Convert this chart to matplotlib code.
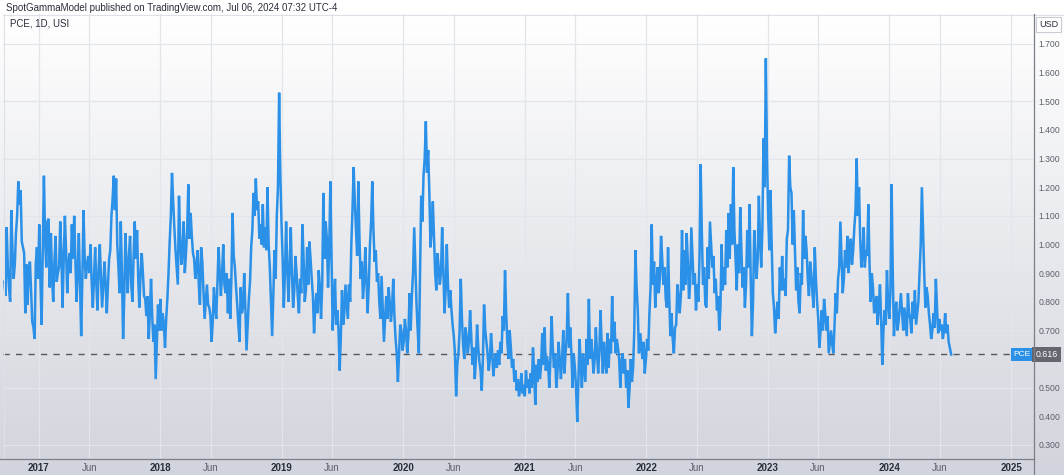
import numpy as np
import pandas as pd
import matplotlib
matplotlib.use('Agg')
import matplotlib.pyplot as plt
from matplotlib.patches import Rectangle
from matplotlib.transforms import blended_transform_factory

FONT = ['Liberation Sans Narrow', 'Liberation Sans', 'DejaVu Sans']
plt.rcParams['font.family'] = FONT

# ---------------- data ----------------
# samples every half week: "weekly" at the start of each week, "mid" half a week later
start_date = '2016-09-19'
weekly_a = [
    0.87, 1.06, 0.85, 1.12, 0.88, 1.04, 1.22, 1.19, 0.99, 0.76,
    0.79, 0.94, 0.73, 0.67, 0.99, 1.07, 0.72, 1.24, 0.92, 1.09,
    1.04, 0.80, 1.03, 0.90, 1.08, 0.78, 1.10, 0.83, 0.97, 1.07,
    1.10, 0.80, 1.04, 0.68, 1.12, 0.88, 0.96, 1.00, 0.78, 0.99,
    0.77, 1.00, 0.78, 0.94, 0.76, 0.95, 1.10, 1.24, 1.23, 0.92,
    1.08, 0.67, 1.04, 0.83, 1.03, 0.80, 1.08, 1.05, 0.78, 0.97,
    0.82, 0.75, 0.67, 0.88, 0.66, 0.53, 0.79, 0.81, 0.76, 0.64,
    0.81, 1.01, 1.25, 1.06, 0.92, 1.17, 0.93, 1.08, 0.97, 1.21,
    1.11, 0.97, 0.88, 0.98, 0.79, 0.94, 0.74, 0.86, 0.78, 0.66,
    0.85, 0.74, 0.99, 0.82, 1.00, 0.83, 0.76, 0.74, 1.11, 0.92,
    0.79, 0.66, 0.76, 0.90, 0.63, 0.81, 0.99, 1.18, 1.23, 1.15,
    1.07, 1.14, 1.06, 1.20,
]
mid_a = [
    0.82, 0.92, 0.80, 0.98, 0.93, 1.10, 1.14, 1.01, 0.97, 0.93,
    0.92, 0.83, 0.71, 0.93, 0.88, 0.88, 0.98, 1.02, 1.08, 0.85,
    0.88, 0.94, 0.87, 0.92, 0.97, 0.95, 0.98, 0.93, 0.90, 0.95,
    0.95, 0.90, 0.86, 0.88, 0.95, 0.93, 0.90, 0.87, 0.88, 0.86,
    0.92, 0.88, 0.86, 0.86, 0.86, 0.98, 1.16, 1.12, 1.00, 0.83,
    0.90, 0.82, 0.92, 0.96, 0.86, 0.96, 0.95, 0.88, 0.90, 0.90,
    0.81, 0.82, 0.76, 0.75, 0.72, 0.66, 0.70, 0.70, 0.72, 0.74,
    0.90, 1.10, 1.15, 0.98, 0.86, 1.02, 0.98, 0.90, 1.05, 1.02,
    1.03, 0.95, 0.92, 0.86, 0.99, 0.84, 0.80, 0.79, 0.75, 0.73,
    0.78, 0.86, 0.90, 0.90, 0.86, 0.90, 0.88, 0.88, 0.96, 0.85,
    0.72, 0.85, 0.78, 0.78, 0.72, 0.87, 1.05, 1.10, 1.12, 1.02,
    1.00, 0.99, 0.98, 1.00,
]
weekly_b = [
    0.92, 0.68, 0.98, 1.10, 1.53, 1.08, 0.78, 1.08, 0.80, 1.06,
    0.78, 0.96, 0.82, 0.88, 1.07, 0.80, 0.99, 1.01, 0.88, 0.69,
    0.83, 0.91, 0.74, 1.18, 1.08, 0.85, 1.22, 0.70, 0.88, 0.77,
    0.56, 0.84, 0.76, 0.80, 0.86, 1.00, 1.27, 1.05, 1.22, 0.88,
    0.81, 0.99, 0.76, 1.00, 1.22, 0.94, 0.87, 0.80, 0.89, 0.66,
    0.82, 0.85, 0.73, 0.88, 0.67, 0.52, 0.72, 0.63, 0.74, 0.62,
    0.83, 0.82, 1.06, 0.79, 0.62, 1.17, 1.24, 1.43, 1.33, 0.99,
    1.15, 0.90, 0.97, 0.86, 1.06, 0.76, 1.00, 0.78, 0.77, 0.68,
    0.47, 0.62, 0.88, 0.65, 0.71, 0.62, 0.77, 0.58, 0.53, 0.72,
    0.59, 0.49, 0.79, 0.66, 0.56, 0.69, 0.54, 0.62, 0.63, 0.66,
    0.75, 0.91, 0.66, 0.70, 0.57, 0.52, 0.49, 0.47, 0.55, 0.51,
    0.56, 0.53,
]
mid_b = [
    0.80, 0.82, 0.88, 1.20, 1.25, 0.95, 0.90, 0.92, 0.92, 0.90,
    0.84, 0.90, 0.76, 0.83, 0.95, 0.84, 0.86, 0.95, 0.82, 0.78,
    0.76, 0.85, 0.86, 0.95, 1.02, 0.98, 0.95, 0.80, 0.72, 0.70,
    0.68, 0.72, 0.86, 0.74, 0.80, 1.12, 1.15, 0.96, 1.02, 0.94,
    0.87, 0.88, 0.86, 1.08, 1.05, 0.98, 0.90, 0.74, 0.78, 0.74,
    0.74, 0.80, 0.78, 0.75, 0.62, 0.62, 0.70, 0.66, 0.70, 0.68,
    0.70, 0.90, 0.92, 0.70, 0.90, 1.08, 1.30, 1.25, 1.18, 1.05,
    1.02, 0.84, 0.92, 0.90, 0.92, 0.84, 0.86, 0.84, 0.72, 0.62,
    0.58, 0.70, 0.74, 0.60, 0.68, 0.66, 0.68, 0.64, 0.60, 0.64,
    0.56, 0.60, 0.70, 0.62, 0.60, 0.62, 0.59, 0.57, 0.58, 0.62,
    0.70, 0.76, 0.60, 0.64, 0.60, 0.56, 0.53, 0.50, 0.48, 0.47,
    0.50, 0.48,
]
weekly_c = [
    0.55, 0.64, 0.44, 0.52, 0.53, 0.69, 0.71, 0.61, 0.50, 0.75,
    0.57, 0.50, 0.66, 0.53, 0.70, 0.62, 0.83, 0.71, 0.50, 0.57,
    0.38, 0.67, 0.50, 0.57, 0.67, 0.81, 0.67, 0.55, 0.71, 0.55,
    0.77, 0.55, 0.60, 0.69, 0.67, 0.82, 0.73, 0.67, 0.60, 0.59,
    0.55, 0.50, 0.43, 0.60, 0.57, 0.98, 0.77, 0.69, 0.60, 0.55,
    0.67, 0.76, 1.07, 0.94, 0.86, 0.83, 1.03, 0.86, 0.81, 0.99,
    0.68, 0.67, 0.71, 0.86, 0.76, 1.05, 0.98, 1.04, 0.81, 1.06,
    0.86, 0.77, 0.80, 1.28, 0.86, 0.79, 0.99, 1.08, 0.92, 0.83,
    0.77, 0.70, 1.00, 0.92, 1.05, 1.11, 1.14, 1.27, 0.95, 1.00,
    1.13, 0.85, 0.78, 1.05, 1.14, 0.68, 1.05, 0.88, 1.17, 0.92,
    1.37, 1.65, 1.10, 1.19, 0.83, 0.69, 0.80, 0.92,
]
mid_c = [
    0.50, 0.55, 0.58, 0.60, 0.58, 0.58, 0.56, 0.58, 0.60, 0.64,
    0.62, 0.55, 0.60, 0.60, 0.55, 0.68, 0.64, 0.62, 0.62, 0.50,
    0.52, 0.58, 0.62, 0.52, 0.58, 0.60, 0.62, 0.60, 0.62, 0.63,
    0.65, 0.66, 0.55, 0.57, 0.62, 0.66, 0.62, 0.64, 0.50, 0.62,
    0.60, 0.56, 0.50, 0.52, 0.70, 0.85, 0.62, 0.65, 0.66, 0.60,
    0.63, 0.85, 0.86, 0.78, 0.92, 0.88, 0.95, 0.92, 0.78, 0.82,
    0.76, 0.62, 0.72, 0.82, 0.82, 0.84, 0.86, 0.94, 0.86, 0.96,
    0.90, 0.86, 0.95, 1.05, 0.92, 0.78, 0.88, 1.00, 0.96, 0.88,
    0.82, 0.78, 0.84, 0.86, 0.92, 0.95, 1.00, 1.05, 0.84, 0.90,
    0.98, 0.92, 0.86, 0.92, 0.88, 0.80, 0.96, 0.95, 1.02, 1.05,
    1.20, 1.30, 0.98, 1.00, 0.78, 0.75, 0.74, 0.84,
]
weekly_d = [
    0.96, 0.88, 1.02, 1.31, 1.18, 1.12, 0.84, 0.80, 0.90, 1.12,
    1.03, 0.88, 0.94, 0.83, 0.99, 0.80, 0.64, 0.77, 0.81, 0.70,
    0.62, 0.70, 0.62, 0.83, 0.88, 1.08, 0.83, 0.98, 1.03, 0.97,
    0.93, 1.06, 1.30, 1.20, 0.92, 1.06, 0.98, 1.14, 0.80, 0.85,
    0.80, 0.72, 0.86, 0.58, 0.77, 0.91, 0.74, 1.21, 0.68, 0.80,
    0.73, 0.83, 0.70, 0.73, 0.83, 0.74, 0.80, 0.84, 0.76, 0.90,
    1.20, 0.90, 0.85, 0.76, 0.67, 0.76, 0.88, 0.69, 0.70, 0.67,
    0.76, 0.72,
]
mid_d = [
    0.84, 0.82, 1.05, 1.20, 1.00, 0.98, 0.92, 0.76, 0.86, 0.95,
    0.98, 0.82, 0.90, 0.78, 0.88, 0.74, 0.70, 0.70, 0.76, 0.75,
    0.66, 0.65, 0.72, 0.76, 0.92, 0.96, 0.88, 0.92, 0.90, 1.02,
    0.98, 1.12, 1.10, 1.02, 0.96, 0.92, 0.96, 0.94, 0.90, 0.76,
    0.82, 0.78, 0.74, 0.70, 0.72, 0.80, 0.84, 0.90, 0.76, 0.70,
    0.78, 0.76, 0.78, 0.68, 0.76, 0.69, 0.74, 0.72, 0.80, 1.00,
    1.05, 0.78, 0.82, 0.72, 0.70, 0.71, 0.78, 0.74, 0.72, 0.70,
    0.69, 0.66,
]
last_date = '2024-07-05'
last_close = 0.616

year_ticks = ['2017-01-01', '2018-01-01', '2019-01-01', '2020-01-01', '2021-01-01',
              '2022-01-01', '2023-01-01', '2024-01-01', '2025-01-01']
year_labels = ['2017', '2018', '2019', '2020', '2021', '2022', '2023', '2024', '2025']
jun_ticks = ['2017-06-01', '2018-06-01', '2019-06-01', '2020-06-01', '2021-06-01',
             '2022-06-01', '2023-06-01', '2024-06-01']
# 0.600 is hidden behind the last-value tag in the reference
price_ticks = [0.3, 0.4, 0.5, 0.7, 0.8, 0.9, 1.0, 1.1, 1.2, 1.3, 1.4, 1.5, 1.6, 1.7]
grid_levels = [0.3, 0.5, 0.7, 0.9, 1.1, 1.3, 1.5, 1.7]

title = 'SpotGammaModel published on TradingView.com, Jul 06, 2024 07:32 UTC-4'
legend_label = 'PCE, 1D, USI'

# ---------------- build series ----------------
weekly = weekly_a + weekly_b + weekly_c + weekly_d
mids = mid_a + mid_b + mid_c + mid_d
values = []
for w, m in zip(weekly, mids):
    values.extend([w, m])
dates = list(pd.date_range(start_date, periods=len(values), freq='84h'))
dates.append(pd.Timestamp(last_date))
values.append(last_close)

# ---------------- figure ----------------
W, H = 1064, 475
fig = plt.figure(figsize=(W / 100, H / 100), dpi=100)
fig.patch.set_facecolor('white')

# background gradient
bg = fig.add_axes([0, 0, 1, 1], zorder=0)
bg.set_axis_off()
rows = np.ones((H, 1, 3))
top_c = np.array([255, 255, 255]) / 255
bot_c = np.array([209, 212, 220]) / 255
t = np.clip((np.arange(H) - 14) / (H - 14), 0, 1)
rows[:, 0, :] = top_c[None, :] * (1 - t[:, None]) + bot_c[None, :] * t[:, None]
rows[:14, 0, :] = 1.0
bg.imshow(rows, aspect='auto', extent=(0, W, H, 0), interpolation='bilinear')
bg.set_xlim(0, W)
bg.set_ylim(H, 0)

# main axes
L, R, T, B = 3, 1033, 14, 458
ax = fig.add_axes([L / W, (H - B) / H, (R - L) / W, (B - T) / H], zorder=2)
ax.patch.set_alpha(0)
for s in ax.spines.values():
    s.set_visible(False)

ax.set_xlim(pd.Timestamp('2016-09-15'), pd.Timestamp('2025-03-08'))
ax.set_ylim(0.2545, 1.8047)

grid_c = '#e3e5ea'
for g in grid_levels:
    ax.axhline(g, color=grid_c, lw=0.9, zorder=1)
for d in year_ticks + jun_ticks:
    ax.axvline(pd.Timestamp(d), color=grid_c, lw=0.9, zorder=1)

ax.plot(dates, values, color='#2a90e8', lw=1.8, zorder=3, solid_joinstyle='miter')

# x ticks
xt = [pd.Timestamp(d) for d in year_ticks + jun_ticks]
xl = year_labels + ['Jun'] * len(jun_ticks)
ax.set_xticks(xt)
ax.set_xticklabels(xl)
ax.tick_params(axis='x', length=0, pad=3.5, labelsize=7)
for lab in ax.get_xticklabels():
    if lab.get_text() == 'Jun':
        lab.set_color('#5d606b')
    else:
        lab.set_color('#2a2e39')
        lab.set_fontweight('bold')

# y ticks on right
ax.yaxis.tick_right()
ax.set_yticks(price_ticks)
ax.set_yticklabels([f'{v:.3f}' for v in price_ticks])
ax.tick_params(axis='y', length=0, pad=4, labelsize=6.2, labelcolor='#5d606b')

# overlay in pixel coordinates
ov = fig.add_axes([0, 0, 1, 1], zorder=4)
ov.set_axis_off()
ov.patch.set_alpha(0)
ov.set_xlim(0, W)
ov.set_ylim(H, 0)
ov.plot([3.5, 3.5], [14, B], color='#dde0e6', lw=0.8)
ov.plot([3, W], [14.5, 14.5], color='#dde0e6', lw=0.8)
ov.plot([R + 0.5, R + 0.5], [14, H], color='#7b7e86', lw=0.9)
ov.plot([0, R + 0.5], [B + 0.5, B + 0.5], color='#7b7e86', lw=0.9)

ov.add_patch(Rectangle((1036, 17), 25, 15, fc='white', ec='#c9ccd3', lw=0.8))
ov.text(1048.5, 24.5, 'USD', ha='center', va='center', fontsize=6.5, color='#2a2e39')

fig.text(6 / W, 1 - 8 / H, title, ha='left', va='center', fontsize=7, color='#2a2e39')
fig.text(10 / W, 1 - 24 / H, legend_label, ha='left', va='center', fontsize=7, color='#2a2e39')

# last value line and tags
tr = blended_transform_factory(ov.transData, ax.transData)
ax.plot([3, 1011], [last_close, last_close], transform=tr, color='#55585f', lw=1.0,
        linestyle=(0, (4.5, 4.5)), zorder=2, clip_on=False)
ax.text(1022, last_close, 'PCE', transform=tr, ha='center', va='center', fontsize=6,
        color='white', zorder=10, clip_on=False,
        bbox=dict(boxstyle='square,pad=0.35', fc='#2a90e8', ec='none'))
ax.text(1046.5, last_close, f'{last_close:.3f}', transform=tr, ha='center', va='center',
        fontsize=6.3, color='white', zorder=10, clip_on=False,
        bbox=dict(boxstyle='square,pad=0.35', fc='#64676f', ec='none'))

fig.savefig('out.png', dpi=100)
